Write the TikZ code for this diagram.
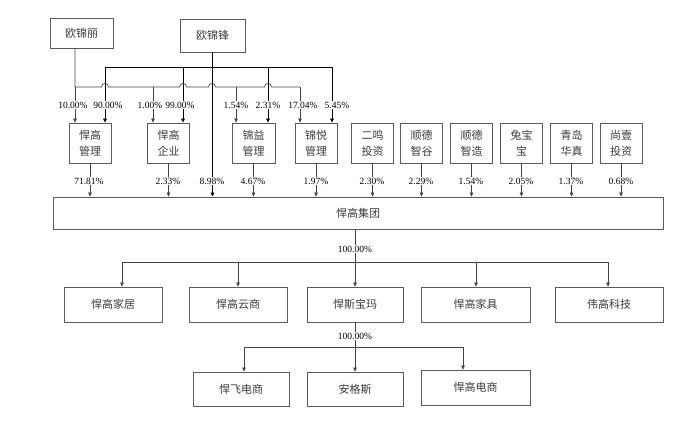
\documentclass[tikz,border=0pt]{standalone}
\usepackage{fontspec}
\setmainfont{Liberation Serif}
\newfontfamily\cjk{Noto Sans CJK SC}
\usetikzlibrary{arrows.meta,calc}
\definecolor{boxc}{HTML}{5A5A5A}
\definecolor{txtc}{HTML}{3A3A3A}
\definecolor{linec}{HTML}{444444}
\begin{document}
\begin{tikzpicture}[x=1pt,y=-1pt,
  box/.style={draw=boxc, line width=0.8pt, text=txtc, font=\cjk\fontsize{11}{16}\selectfont, inner sep=0pt, align=center},
  sbox/.style={box, minimum width=42pt, minimum height=40pt},
  wbox/.style={box, minimum height=35pt},
  pct/.style={font=\fontsize{9.5}{10}\selectfont, text=black, fill=white, inner sep=0.8pt},
  arr/.style={-{Triangle[width=3.6pt,length=4pt]}},
  strong/.style={draw=black, line width=1pt},
  weak/.style={draw=linec, line width=0.7pt}
]
\useasboundingbox (0,0) rectangle (700,420);

% top owners
\node[box, minimum width=63pt, minimum height=30pt] (ouli) at (81.5,33) {欧锦丽};
\node[box, minimum width=65pt, minimum height=33pt] (oufeng) at (212.5,35.5) {欧锦锋};

% second row
\node[sbox] (ggl) at (90,143) {悍高\\管理};
\node[sbox] (gqy) at (168.5,143) {悍高\\企业};
\node[sbox, minimum width=43pt] (jy) at (253.5,143) {锦益\\管理};
\node[sbox] (jyue) at (316,143) {锦悦\\管理};
\node[sbox] (em) at (372.5,143) {二鸣\\投资};
\node[sbox] (sdzg) at (421.5,143) {顺德\\智谷};
\node[sbox] (sdzz) at (471.5,143) {顺德\\智造};
\node[sbox] (tbb) at (521.5,143) {兔宝\\宝};
\node[sbox] (qd) at (571.5,143) {青岛\\华真};
\node[sbox] (sy) at (621,143) {尚壹\\投资};

% group
\node[box, minimum width=610pt, minimum height=32pt] (group) at (358,213) {悍高集团};

% third row
\node[wbox, minimum width=98pt] (jiaju) at (113,304.5) {悍高家居};
\node[wbox, minimum width=98pt] (yun) at (238,304.5) {悍高云商};
\node[wbox, minimum width=96pt] (sbm) at (355,304.5) {悍斯宝玛};
\node[wbox, minimum width=109pt] (jiaju2) at (475.5,304.5) {悍高家具};
\node[wbox, minimum width=108pt] (wg) at (609,304.5) {伟高科技};

% fourth row
\node[box, minimum width=96pt, minimum height=34pt] (fei) at (241,389) {悍飞电商};
\node[box, minimum width=96pt, minimum height=34pt] (ags) at (355,389) {安格斯};
\node[box, minimum width=109pt, minimum height=35pt] (dian) at (475.5,387.5) {悍高电商};

% ---- 欧锦锋 connectors
\coordinate (f1) at (105,67);
\coordinate (f2) at (183,67);
\coordinate (f4) at (268,67);
\coordinate (f5) at (332,67);
\draw[strong] (f1) -- (f5);
\draw[strong, arr] (oufeng.south) -- (oufeng.south |- group.north);
\draw[strong, arr] (f1) -- (f1 |- ggl.north);
\draw[strong, arr] (f2) -- (f2 |- gqy.north);
\draw[strong, arr] (f4) -- (f4 |- jy.north);
\draw[strong, arr] (f5) -- (f5 |- jyue.north);

% ---- 欧锦丽 connectors with hops
\coordinate (l1) at (75,87);
\coordinate (l2) at (153,87);
\coordinate (l3) at (236,87);
\coordinate (l4) at (300,87);
\draw[weak] ([xshift=-6.5pt]ouli.south) -- (l1) -- (101.5,87)
  .. controls (101.5,82.3) and (108.5,82.3) .. (108.5,87) -- (179.5,87)
  .. controls (179.5,82.3) and (186.5,82.3) .. (186.5,87) -- (208.5,87)
  .. controls (208.5,82.3) and (215.5,82.3) .. (215.5,87) -- (264.5,87)
  .. controls (264.5,82.3) and (271.5,82.3) .. (271.5,87) -- (l4);
\draw[weak, arr] (l1) -- (l1 |- ggl.north);
\draw[weak, arr] (l2) -- (l2 |- gqy.north);
\draw[weak, arr] (l3) -- (l3 |- jy.north);
\draw[weak, arr] (l4) -- (l4 |- jyue.north);

% top percentages
\node[pct] at (73,105) {10.00\%};
\node[pct] at (108,105) {90.00\%};
\node[pct] at (150,105) {1.00\%};
\node[pct] at (180,105) {99.00\%};
\node[pct] at (236,105) {1.54\%};
\node[pct] at (268,105) {2.31\%};
\node[pct] at (303,105) {17.04\%};
\node[pct] at (337,105) {5.45\%};

% ---- second row to group
\foreach \n in {ggl,gqy,jy,jyue,em,sdzg,sdzz,tbb,qd,sy}{
  \draw[weak, arr] (\n.south) -- (\n.south |- group.north);
}
\node[pct] at (89,181) {71.81\%};
\node[pct] at (168,181) {2.33\%};
\node[pct] at (212,181) {8.98\%};
\node[pct] at (253,181) {4.67\%};
\node[pct] at (316,181) {1.97\%};
\node[pct] at (372,181) {2.30\%};
\node[pct] at (421,181) {2.29\%};
\node[pct] at (471,181) {1.54\%};
\node[pct] at (521,181) {2.05\%};
\node[pct] at (571,181) {1.37\%};
\node[pct] at (621,181) {0.68\%};

% ---- group to subsidiaries
\coordinate (gs) at ($(group.south)+(-3,0)$);
\coordinate (b1) at (122,262);
\coordinate (b2) at (238,262);
\coordinate (b4) at (476,262);
\coordinate (b5) at (608,262);
\draw[weak] (b1) -- (b5);
\draw[weak, arr] (gs) -- (gs |- sbm.north);
\draw[weak, arr] (b1) -- (b1 |- jiaju.north);
\draw[weak, arr] (b2) -- (b2 |- yun.north);
\draw[weak, arr] (b4) -- (b4 |- jiaju2.north);
\draw[weak, arr] (b5) -- (b5 |- wg.north);
\node[pct] at (355,249) {100.00\%};

% ---- 悍斯宝玛 to subsidiaries
\coordinate (c1) at (244,347);
\coordinate (c3) at (463,347);
\draw[weak] (c1) -- (c3);
\draw[weak, arr] (sbm.south) -- (ags.north);
\draw[weak, arr] (c1) -- (c1 |- fei.north);
\draw[weak, arr] (c3) -- (c3 |- dian.north);
\node[pct] at (355,336) {100.00\%};
\end{tikzpicture}
\end{document}
